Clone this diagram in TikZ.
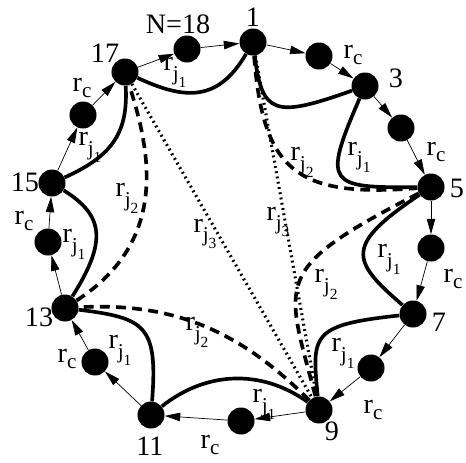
\documentclass[tikz,border=0pt]{standalone}
\usepackage{fontspec}
\setmainfont{Liberation Serif}
\usetikzlibrary{arrows.meta}
\tikzset{
  ringnode/.style={circle, fill=black, inner sep=0pt, minimum size=0.675cm},
  lbl/.style={font=\fontsize{20}{23}\selectfont, inner sep=0pt},
  ringarr/.style={-{Triangle[length=11pt,width=6pt]}, line width=0.5pt},
  jumpone/.style={line width=2.6pt},
  jumptwo/.style={line width=2.6pt, dash pattern=on 7pt off 4.5pt},
  jumpthree/.style={line width=2.2pt, dash pattern=on 1.3pt off 2.5pt}
}
\newcommand{\ratec}{r\raisebox{-4pt}{\fontsize{15}{15}\selectfont c}}
\newcommand{\ratej}[1]{r\raisebox{-7pt}{\fontsize{15}{15}\selectfont j\raisebox{-5pt}{\fontsize{11}{11}\selectfont #1}}}

\begin{document}
\begin{tikzpicture}[x=0.025cm, y=-0.025cm]
  \useasboundingbox (0,0) rectangle (466,462);

  %% RING NODES
  \node[ringnode] (n1)  at (253,42)  {};
  \node[ringnode] (n2)  at (319,56)  {};
  \node[ringnode] (n3)  at (365,86)  {};
  \node[ringnode] (n4)  at (401,128) {};
  \node[ringnode] (n5)  at (431,187) {};
  \node[ringnode] (n6)  at (431,248) {};
  \node[ringnode] (n7)  at (413,314) {};
  \node[ringnode] (n8)  at (371,368) {};
  \node[ringnode] (n9)  at (319,410) {};
  \node[ringnode] (n10) at (241,421) {};
  \node[ringnode] (n11) at (151,415) {};
  \node[ringnode] (n12) at (95,362)  {};
  \node[ringnode] (n13) at (65,308)  {};
  \node[ringnode] (n14) at (48,242)  {};
  \node[ringnode] (n15) at (52,183)  {};
  \node[ringnode] (n16) at (83,115)  {};
  \node[ringnode] (n17) at (125,72)  {};
  \node[ringnode] (n18) at (187,49)  {};

  %% NUMBERS
  \node[lbl] (l18) at (178,24)  {N=18};
  \node[lbl] (l1)  at (253,17)  {1};
  \node[lbl] (l3)  at (396,78)  {3};
  \node[lbl] (l5)  at (457,188) {5};
  \node[lbl] (l7)  at (439,322) {7};
  \node[lbl] (l9)  at (332,431) {9};
  \node[lbl] (l11) at (150,446) {11};
  \node[lbl] (l13) at (39,317)  {13};
  \node[lbl] (l15) at (25,182)  {15};
  \node[lbl] (l17) at (105,53)  {17};

  %% RING ARROWS
  \draw[ringarr] (n17) -- (n18);
  \draw[ringarr] (n18) -- (n1);
  \draw[ringarr] (n1)  -- (n2);
  \draw[ringarr] (n2)  -- (n3);
  \draw[ringarr] (n3)  -- (n4);
  \draw[ringarr] (n4)  -- (n5);
  \draw[ringarr] (n5)  -- (n6);
  \draw[ringarr] (n6)  -- (n7);
  \draw[ringarr] (n7)  -- (n8);
  \draw[ringarr] (n8)  -- (n9);
  \draw[ringarr] (n9)  -- (n10);
  \draw[ringarr] (n10) -- (n11);
  \draw[ringarr] (n11) -- (n12);
  \draw[ringarr] (n12) -- (n13);
  \draw[ringarr] (n13) -- (n14);
  \draw[ringarr] (n14) -- (n15);
  \draw[ringarr] (n15) -- (n16);
  \draw[ringarr] (n16) -- (n17);

  \node[lbl] (rc2)  at (353,55)  {\ratec};
  \node[lbl] (rc4)  at (436,152) {\ratec};
  \node[lbl] (rc6)  at (453,279) {\ratec};
  \node[lbl] (rc8)  at (373,410) {\ratec};
  \node[lbl] (rc10) at (210,445) {\ratec};
  \node[lbl] (rc12) at (67,359)  {\ratec};
  \node[lbl] (rc14) at (24,221)  {\ratec};
  \node[lbl] (rc16) at (82,88)   {\ratec};

  %% FIRST JUMPS
  \draw[jumpone] (n17) .. controls (185,100) and (218,102) .. (n1);
  \draw[jumpone] (n1)  .. controls (262,115) and (275,118) .. (n3);
  \draw[jumpone] (n3)  .. controls (322,185) and (328,188) .. (n5);
  \draw[jumpone] (n5)  .. controls (345,245) and (350,260) .. (n7);
  \draw[jumpone] (n7)  .. controls (310,325) and (312,335) .. (n9);
  \draw[jumpone] (n9)  .. controls (260,368) and (205,372) .. (n11);
  \draw[jumpone] (n11) .. controls (158,325) and (145,318) .. (n13);
  \draw[jumpone] (n13) .. controls (108,240) and (103,215) .. (n15);
  \draw[jumpone] (n15) .. controls (115,155) and (128,130) .. (n17);

  \node[lbl] (rj18) at (175,72)  {\ratej{1}};
  \node[lbl] (rj4)  at (359,157) {\ratej{1}};
  \node[lbl] (rj6)  at (389,259) {\ratej{1}};
  \node[lbl] (rj8)  at (343,353) {\ratej{1}};
  \node[lbl] (rj10) at (264,404) {\ratej{1}};
  \node[lbl] (rj12) at (120,350) {\ratej{1}};
  \node[lbl] (rj14) at (74,244)  {\ratej{1}};
  \node[lbl] (rj16) at (90,147)  {\ratej{1}};

  %% SECOND JUMPS
  \draw[jumptwo] (n1)  .. controls (263,170) and (295,198) .. (n5);
  \draw[jumptwo] (n5)  .. controls (270,270) and (285,280) .. (n9);
  \draw[jumptwo] (n9)  .. controls (241,332) and (175,302) .. (n13);
  \draw[jumptwo] (n13) .. controls (170,240) and (150,150) .. (n17);

  \node[lbl] (rjj3)  at (302,162) {\ratej{2}};
  \node[lbl] (rjj7)  at (326,284) {\ratej{2}};
  \node[lbl] (rjj11) at (197,332) {\ratej{2}};
  \node[lbl] (rjj15) at (127,198) {\ratej{2}};

  %% THIRD JUMPS
  \draw[jumpthree] (n17) -- (n9);
  \draw[jumpthree] (n1)  -- (n9);

  \node[lbl] (rjjj13) at (205,234) {\ratej{3}};
  \node[lbl] (rjjj5)  at (278,222) {\ratej{3}};

\end{tikzpicture}
\end{document}
